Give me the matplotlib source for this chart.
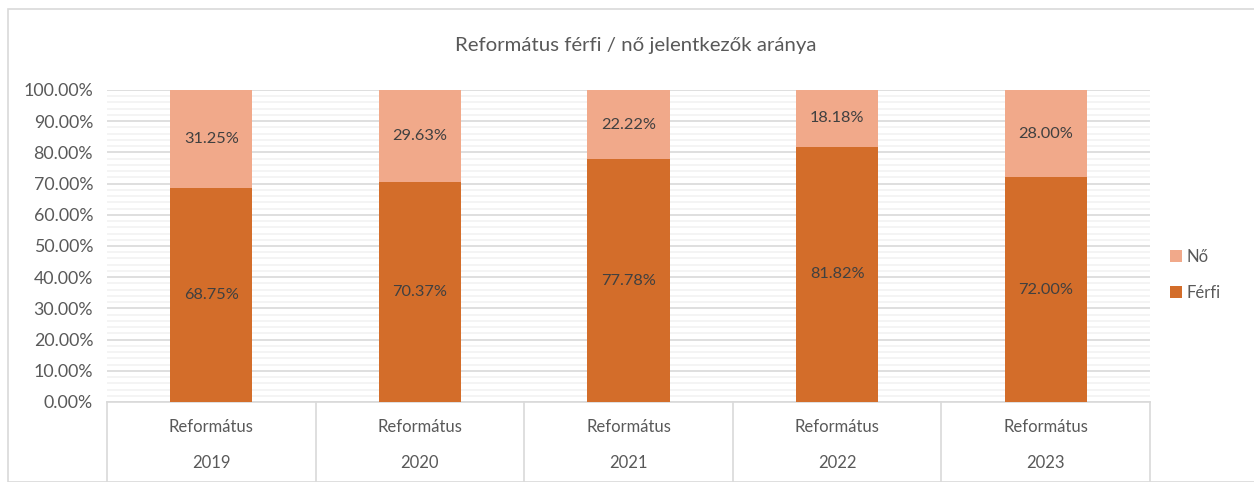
import numpy as np
import matplotlib.pyplot as plt
from matplotlib.ticker import MultipleLocator, FuncFormatter
from matplotlib.lines import Line2D
from matplotlib.patches import Rectangle

plt.rcParams['font.family'] = ['Lato', 'DejaVu Sans']

years = ['2019', '2020', '2021', '2022', '2023']
groups = ['Református'] * 5
ferfi = [68.75, 70.37, 77.78, 81.82, 72.00]
no = [31.25, 29.63, 22.22, 18.18, 28.00]

c_ferfi = '#D36D2A'
c_no = '#F1A98A'
txt = '#595959'

fig = plt.figure(figsize=(12.54, 4.82), dpi=100)
# chart area border
fig.add_artist(Rectangle((8 / 1254, 0), 1.2, 1 - 9 / 482, transform=fig.transFigure,
                         fill=False, edgecolor='#D9D9D9', linewidth=1.2))

ax = fig.add_axes([107 / 1254, 1 - 402 / 482, (1150 - 107) / 1254, (402 - 90) / 482])
x = np.arange(len(years))
w = 0.395
ax.bar(x, ferfi, w, color=c_ferfi, label='Férfi', zorder=3)
ax.bar(x, no, w, bottom=ferfi, color=c_no, label='Nő', zorder=3)

for i in range(len(years)):
    ax.text(x[i], ferfi[i] / 2, f'{ferfi[i]:.2f}%', ha='center', va='center',
            fontsize=11.8, color='#404040', zorder=4)
    ax.text(x[i], ferfi[i] + no[i] / 2, f'{no[i]:.2f}%', ha='center', va='center',
            fontsize=11.8, color='#404040', zorder=4)

ax.set_xlim(-0.5, len(years) - 0.5)
ax.set_ylim(0, 100)
ax.yaxis.set_major_locator(MultipleLocator(10))
ax.yaxis.set_minor_locator(MultipleLocator(2))
ax.yaxis.set_major_formatter(FuncFormatter(lambda v, p: f'{v:.2f}%'))
ax.grid(axis='y', which='major', color='#D9D9D9', linewidth=1.2, zorder=0)
ax.grid(axis='y', which='minor', color='#F2F2F2', linewidth=1.2, zorder=0)
ax.tick_params(axis='y', which='both', length=0, labelsize=12.8, labelcolor=txt, pad=10)
ax.tick_params(axis='x', length=0, labelbottom=False)
for s in ['top', 'right', 'left']:
    ax.spines[s].set_visible(False)
ax.spines['bottom'].set_color('#D9D9D9')
ax.spines['bottom'].set_linewidth(1.2)

# two-level category labels
for i in range(len(years)):
    ax.text(x[i], -0.08, groups[i], transform=ax.get_xaxis_transform(), ha='center',
            va='center', fontsize=12, color=txt, clip_on=False)
    ax.text(x[i], -0.196, years[i], transform=ax.get_xaxis_transform(), ha='center',
            va='center', fontsize=12, color=txt, clip_on=False)
for b in np.arange(-0.5, len(years), 1.0):
    ax.add_line(Line2D([b, b], [0, -0.26], transform=ax.get_xaxis_transform(),
                       color='#D9D9D9', linewidth=1.2, clip_on=False))

fig.text(636 / 1254, 1 - 45 / 482, 'Református férfi / nő jelentkezők aránya',
         ha='center', va='center', fontsize=14.7, color=txt)

h, l = ax.get_legend_handles_labels()
fig.legend(h[::-1], l[::-1], loc='center left', bbox_to_anchor=(1155 / 1254, 1 - 275 / 482),
           frameon=False, fontsize=12, labelcolor=txt, handlelength=0.7, handleheight=0.7,
           handletextpad=0.3, labelspacing=1.2)

fig.savefig('out.png', dpi=100)
